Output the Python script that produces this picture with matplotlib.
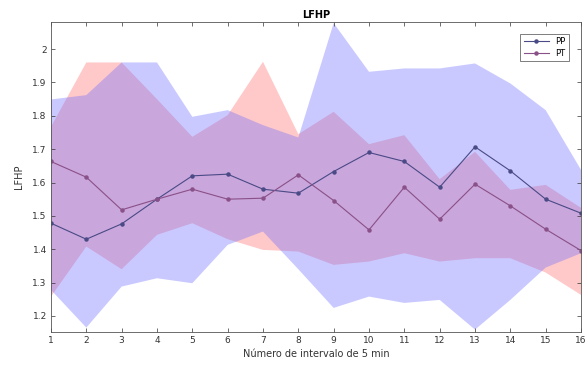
import matplotlib
matplotlib.use("Agg")
import matplotlib.pyplot as plt
import numpy as np

# Interval index (5-minute blocks)
intervals = list(range(1, 17))

# Mean LF/HF per interval
pp_mean = [1.478, 1.430, 1.476, 1.550, 1.620, 1.625, 1.580, 1.568,
           1.633, 1.690, 1.663, 1.586, 1.707, 1.635, 1.550, 1.508]
pt_mean = [1.663, 1.616, 1.518, 1.550, 1.580, 1.550, 1.553, 1.623,
           1.546, 1.458, 1.586, 1.490, 1.595, 1.530, 1.460, 1.396]

# Dispersion bands (upper / lower)
pp_upper = [1.849, 1.862, 1.960, 1.960, 1.797, 1.817, 1.772, 1.735,
            2.078, 1.932, 1.942, 1.942, 1.957, 1.897, 1.817, 1.638]
pp_lower = [1.278, 1.165, 1.288, 1.313, 1.298, 1.413, 1.453, 1.340,
            1.224, 1.258, 1.239, 1.248, 1.159, 1.248, 1.345, 1.388]
pt_upper = [1.767, 1.960, 1.960, 1.850, 1.737, 1.802, 1.962, 1.745,
            1.812, 1.715, 1.742, 1.610, 1.692, 1.578, 1.593, 1.524]
pt_lower = [1.258, 1.408, 1.340, 1.443, 1.478, 1.430, 1.398, 1.393,
            1.353, 1.363, 1.388, 1.363, 1.373, 1.373, 1.330, 1.263]

yticks = [1.2, 1.3, 1.4, 1.5, 1.6, 1.7, 1.8, 1.9, 2.0]
ytick_labels = ["1.2", "1.3", "1.4", "1.5", "1.6", "1.7", "1.8", "1.9", "2"]

plt.rcParams['font.family'] = ['DejaVu Sans']
fig = plt.figure(figsize=(5.86, 3.68), dpi=100)
ax = fig.add_axes([0.087, 0.098, 0.9045, 0.842])

x = np.array(intervals)
ax.fill_between(x, pt_lower, pt_upper, facecolor=(1.0, 0.4, 0.4),
                alpha=0.35, linewidth=0)
ax.fill_between(x, pp_lower, pp_upper, facecolor=(0.4, 0.4, 1.0),
                alpha=0.35, linewidth=0)

ax.plot(x, pp_mean, color='#4a4a86', lw=0.8, marker='o', ms=2.2,
        label='PP')
ax.plot(x, pt_mean, color='#8a5088', lw=0.8, marker='o', ms=2.2,
        label='PT')

ax.set_xlim(1, 16)
ax.set_ylim(1.152, 2.081)
ax.set_xticks(intervals)
ax.set_yticks(yticks)
ax.set_yticklabels(ytick_labels)

for side in ['top', 'right', 'bottom', 'left']:
    ax.spines[side].set_color('#555555')
    ax.spines[side].set_linewidth(0.6)
ax.tick_params(direction='in', length=3, width=0.5, colors='#333333',
               labelsize=6.5, top=True, right=True, pad=3)

ax.set_title('LFHP', fontsize=7, fontweight='bold', pad=3)
ax.set_xlabel('Número de intervalo de 5 min', fontsize=7, color='#333333',
              labelpad=3)
ax.set_ylabel('LFHP', fontsize=7, color='#333333', labelpad=6)

leg = ax.legend(loc='upper right', fontsize=6, frameon=True, fancybox=False,
                edgecolor='#444444', borderpad=0.4, handlelength=3,
                labelspacing=0.3, bbox_to_anchor=(0.985, 0.975))
leg.get_frame().set_linewidth(0.6)

fig.savefig('out.png', dpi=100)
